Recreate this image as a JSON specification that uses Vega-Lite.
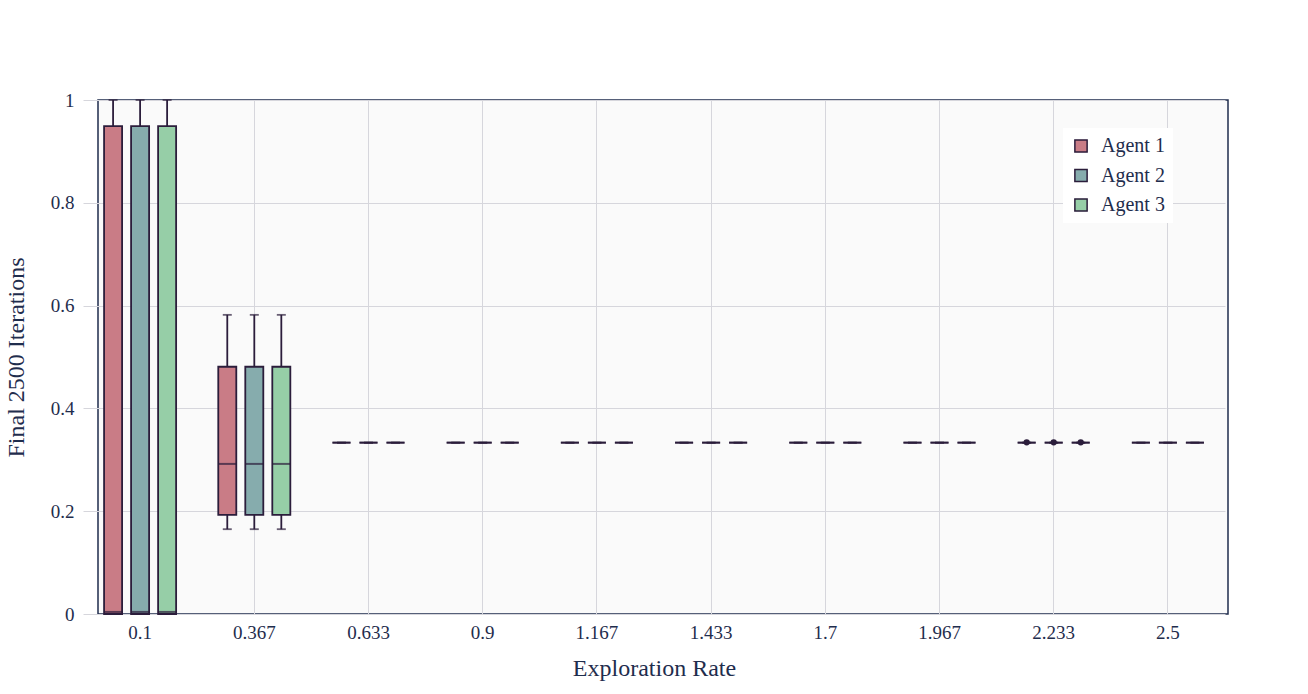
{
  "$schema": "https://vega.github.io/schema/vega-lite/v6.json",
  "width": 1130,
  "height": 514,
  "autosize": {"type": "none"},
  "padding": {"left": 98, "top": 100, "right": 80, "bottom": 80},
  "background": "white",
  "config": {
    "font": "Liberation Serif",
    "view": {"fill": "#fafafa", "stroke": "#1f2d4d", "strokeWidth": 1.5},
    "axis": {
      "labelFont": "Liberation Serif",
      "titleFont": "Liberation Serif",
      "labelFontSize": 19,
      "titleFontSize": 24,
      "titleFontWeight": "normal",
      "labelColor": "#1f2d4d",
      "titleColor": "#1f2d4d",
      "gridColor": "#d6d6dc",
      "gridWidth": 1,
      "domain": false,
      "ticks": false
    },
    "legend": {
      "labelFont": "Liberation Serif",
      "labelFontSize": 20,
      "labelColor": "#1f2d4d"
    }
  },
  "datasets": {
    "stats": [
      {"rate": "0.1", "agent": "Agent 1", "lower": 0, "q1": 0, "median": 0.004, "q3": 0.949, "upper": 1},
      {"rate": "0.1", "agent": "Agent 2", "lower": 0, "q1": 0, "median": 0.004, "q3": 0.949, "upper": 1},
      {"rate": "0.1", "agent": "Agent 3", "lower": 0, "q1": 0, "median": 0.004, "q3": 0.949, "upper": 1},
      {"rate": "0.367", "agent": "Agent 1", "lower": 0.165, "q1": 0.193, "median": 0.292, "q3": 0.481, "upper": 0.582},
      {"rate": "0.367", "agent": "Agent 2", "lower": 0.165, "q1": 0.193, "median": 0.292, "q3": 0.481, "upper": 0.582},
      {"rate": "0.367", "agent": "Agent 3", "lower": 0.165, "q1": 0.193, "median": 0.292, "q3": 0.481, "upper": 0.582},
      {"rate": "0.633", "agent": "Agent 1", "lower": 0.3333, "q1": 0.3333, "median": 0.3333, "q3": 0.3333, "upper": 0.3333},
      {"rate": "0.633", "agent": "Agent 2", "lower": 0.3333, "q1": 0.3333, "median": 0.3333, "q3": 0.3333, "upper": 0.3333},
      {"rate": "0.633", "agent": "Agent 3", "lower": 0.3333, "q1": 0.3333, "median": 0.3333, "q3": 0.3333, "upper": 0.3333},
      {"rate": "0.9", "agent": "Agent 1", "lower": 0.3333, "q1": 0.3333, "median": 0.3333, "q3": 0.3333, "upper": 0.3333},
      {"rate": "0.9", "agent": "Agent 2", "lower": 0.3333, "q1": 0.3333, "median": 0.3333, "q3": 0.3333, "upper": 0.3333},
      {"rate": "0.9", "agent": "Agent 3", "lower": 0.3333, "q1": 0.3333, "median": 0.3333, "q3": 0.3333, "upper": 0.3333},
      {"rate": "1.167", "agent": "Agent 1", "lower": 0.3333, "q1": 0.3333, "median": 0.3333, "q3": 0.3333, "upper": 0.3333},
      {"rate": "1.167", "agent": "Agent 2", "lower": 0.3333, "q1": 0.3333, "median": 0.3333, "q3": 0.3333, "upper": 0.3333},
      {"rate": "1.167", "agent": "Agent 3", "lower": 0.3333, "q1": 0.3333, "median": 0.3333, "q3": 0.3333, "upper": 0.3333},
      {"rate": "1.433", "agent": "Agent 1", "lower": 0.3333, "q1": 0.3333, "median": 0.3333, "q3": 0.3333, "upper": 0.3333},
      {"rate": "1.433", "agent": "Agent 2", "lower": 0.3333, "q1": 0.3333, "median": 0.3333, "q3": 0.3333, "upper": 0.3333},
      {"rate": "1.433", "agent": "Agent 3", "lower": 0.3333, "q1": 0.3333, "median": 0.3333, "q3": 0.3333, "upper": 0.3333},
      {"rate": "1.7", "agent": "Agent 1", "lower": 0.3333, "q1": 0.3333, "median": 0.3333, "q3": 0.3333, "upper": 0.3333},
      {"rate": "1.7", "agent": "Agent 2", "lower": 0.3333, "q1": 0.3333, "median": 0.3333, "q3": 0.3333, "upper": 0.3333},
      {"rate": "1.7", "agent": "Agent 3", "lower": 0.3333, "q1": 0.3333, "median": 0.3333, "q3": 0.3333, "upper": 0.3333},
      {"rate": "1.967", "agent": "Agent 1", "lower": 0.3333, "q1": 0.3333, "median": 0.3333, "q3": 0.3333, "upper": 0.3333},
      {"rate": "1.967", "agent": "Agent 2", "lower": 0.3333, "q1": 0.3333, "median": 0.3333, "q3": 0.3333, "upper": 0.3333},
      {"rate": "1.967", "agent": "Agent 3", "lower": 0.3333, "q1": 0.3333, "median": 0.3333, "q3": 0.3333, "upper": 0.3333},
      {"rate": "2.233", "agent": "Agent 1", "lower": 0.3333, "q1": 0.3333, "median": 0.3333, "q3": 0.3333, "upper": 0.3333},
      {"rate": "2.233", "agent": "Agent 2", "lower": 0.3333, "q1": 0.3333, "median": 0.3333, "q3": 0.3333, "upper": 0.3333},
      {"rate": "2.233", "agent": "Agent 3", "lower": 0.3333, "q1": 0.3333, "median": 0.3333, "q3": 0.3333, "upper": 0.3333},
      {"rate": "2.5", "agent": "Agent 1", "lower": 0.3333, "q1": 0.3333, "median": 0.3333, "q3": 0.3333, "upper": 0.3333},
      {"rate": "2.5", "agent": "Agent 2", "lower": 0.3333, "q1": 0.3333, "median": 0.3333, "q3": 0.3333, "upper": 0.3333},
      {"rate": "2.5", "agent": "Agent 3", "lower": 0.3333, "q1": 0.3333, "median": 0.3333, "q3": 0.3333, "upper": 0.3333}
    ],
    "outliers": [
      {"rate": "2.233", "agent": "Agent 1", "value": 0.334},
      {"rate": "2.233", "agent": "Agent 2", "value": 0.334},
      {"rate": "2.233", "agent": "Agent 3", "value": 0.334}
    ]
  },
  "data": {"name": "stats"},
  "encoding": {
    "x": {
      "field": "rate",
      "type": "nominal",
      "scale": {
        "domain": ["0.1", "0.367", "0.633", "0.9", "1.167", "1.433", "1.7", "1.967", "2.233", "2.5"],
        "range": [-15, 1127],
        "paddingInner": 0,
        "paddingOuter": 0
      },
      "axis": {
        "title": "Exploration Rate",
        "labelAngle": 0,
        "labelPadding": 9,
        "titlePadding": 14,
        "grid": true,
        "bandPosition": 0.5
      }
    },
    "xOffset": {
      "field": "agent",
      "type": "nominal",
      "scale": {"domain": ["Agent 1", "Agent 2", "Agent 3"], "paddingInner": 0.333, "paddingOuter": 0.78}
    }
  },
  "layer": [
    {
      "mark": {"type": "rule", "color": "#2b1d3b", "strokeWidth": 1.8},
      "encoding": {
        "y": {
          "field": "lower",
          "type": "quantitative",
          "scale": {"domain": [0, 1], "nice": false, "zero": false},
          "axis": {
            "title": "Final 2500 Iterations",
            "values": [0, 0.2, 0.4, 0.6, 0.8, 1],
            "format": "~g",
            "labelPadding": 24,
            "titlePadding": 22,
            "grid": true
          }
        },
        "y2": {"field": "upper"}
      }
    },
    {
      "mark": {"type": "tick", "color": "#2b1d3b", "thickness": 1.8, "size": 9, "orient": "horizontal"},
      "encoding": {"y": {"field": "upper", "type": "quantitative"}}
    },
    {
      "mark": {"type": "tick", "color": "#2b1d3b", "thickness": 1.8, "size": 9, "orient": "horizontal"},
      "encoding": {"y": {"field": "lower", "type": "quantitative"}}
    },
    {
      "mark": {"type": "bar", "stroke": "#2b1d3b", "strokeWidth": 1.8, "opacity": 1},
      "encoding": {
        "y": {"field": "q1", "type": "quantitative"},
        "y2": {"field": "q3"},
        "color": {
          "field": "agent",
          "type": "nominal",
          "scale": {"domain": ["Agent 1", "Agent 2", "Agent 3"], "range": ["#c97c86", "#86acad", "#96cea7"]},
          "legend": {
            "title": null,
            "orient": "none",
            "legendX": 965,
            "legendY": 28,
            "fillColor": "white",
            "padding": 8,
            "symbolType": "square",
            "symbolSize": 150,
            "symbolStrokeColor": "#2b1d3b",
            "symbolStrokeWidth": 1.5,
            "symbolOpacity": 1,
            "rowPadding": 9.5,
            "labelOffset": 10
          }
        }
      }
    },
    {
      "mark": {"type": "tick", "color": "#2b1d3b", "thickness": 2, "orient": "horizontal"},
      "encoding": {"y": {"field": "median", "type": "quantitative"}}
    },
    {
      "data": {"name": "outliers"},
      "mark": {"type": "circle", "color": "#2b1d3b", "opacity": 1, "size": 40},
      "encoding": {"y": {"field": "value", "type": "quantitative"}}
    }
  ]
}
